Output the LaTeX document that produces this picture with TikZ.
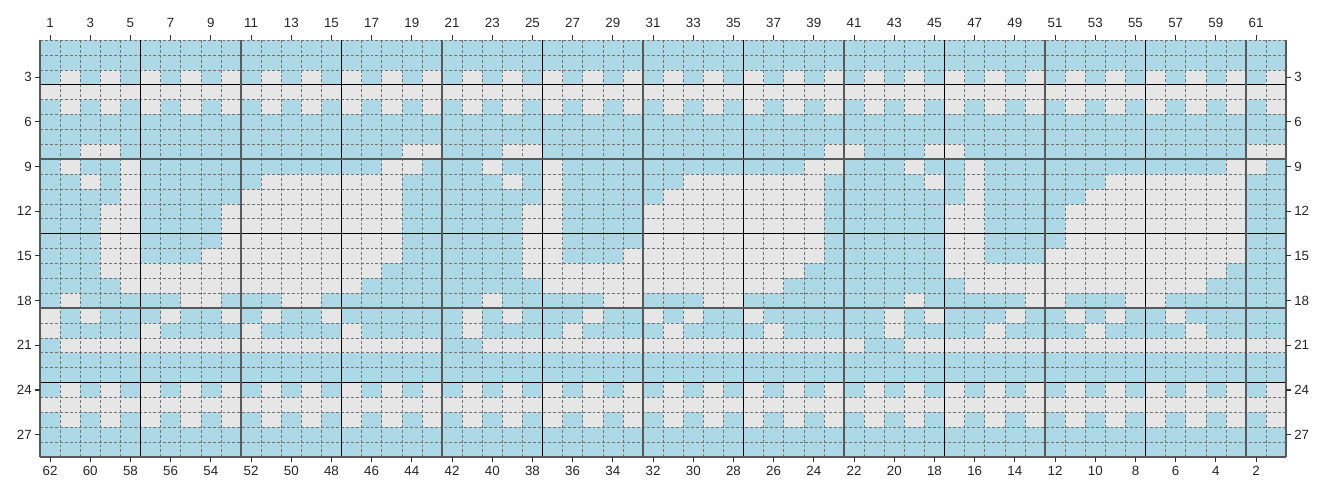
\documentclass[tikz,border=0pt]{standalone}
\usepackage{fontspec}
\setmainfont{Liberation Sans}
\usepackage{xcolor}
\usetikzlibrary{calc}

\definecolor{knitblue}{HTML}{ADD8E6}
\definecolor{knitgrey}{HTML}{E6E6E6}

\begin{document}
\begin{tikzpicture}[x=0.75pt, y=-0.75pt,
    cellgrid/.style={draw=black!55, line width=0.4pt, dash pattern=on 2.2pt off 1.5pt},
    thickrule/.style={draw=black!65, line width=1.6pt},
    thinrule/.style={draw=black, line width=0.75pt},
    tickmark/.style={draw=black!80, line width=0.8pt},
    axislabel/.style={font=\fontsize{10}{12}\selectfont, text=black!85, inner sep=0pt}]
  % Size of the page and of one stitch
  \useasboundingbox (0,0) rectangle (1326,497);
  \def\colw{20.1}
  \def\rowh{14.893}

  % Corners of the chart
  \coordinate (NW) at (40,40);
  \coordinate (SE) at (1286.2,457);

  % Background is the main colour
  \fill[knitblue] (NW) rectangle (SE);

  % Plain rows and checked rows in the contrast colour
  \foreach \r in {4,25} {
    \fill[knitgrey] (40,{40+(\r-1)*\rowh}) rectangle (1286.2,{40+\r*\rowh});
  }
  \foreach \r in {3,5,24,26} {
    \foreach \c in {2,4,...,62} {
      \fill[knitgrey] ({40+(\c-1)*\colw},{40+(\r-1)*\rowh}) rectangle ({40+\c*\colw},{40+\r*\rowh});
    }
  }

  % Motif of rows 8-21, repeated every 21 stitches (row / runs of contrast stitches)
  \foreach \r/\runs in {8/{3/4,19/20}, 9/{2/2,5/5,18/19}, 10/{3/3,5/5,12/18}, 11/{5/5,11/18},
      12/{4/5,10/18}, 13/{4/5,10/18}, 14/{4/5,10/18}, 15/{4/5,9/18}, 16/{4/17}, 17/{5/16},
      18/{2/2,8/9,13/14}, 19/{1/1,3/3,7/7,10/10,12/12,15/15}, 20/{1/1,6/6,11/11,16/16}, 21/{2/20}} {
    \foreach \a/\b in \runs {
      \foreach \off in {0,21,42} {
        \fill[knitgrey] ({40+(\a+\off-1)*\colw},{40+(\r-1)*\rowh}) rectangle ({40+(\b+\off)*\colw},{40+\r*\rowh});
      }
    }
  }

  % Dashed grid of stitches
  \foreach \c in {0,...,62} {
    \draw[cellgrid] ({40+\c*\colw},40) -- ({40+\c*\colw},457);
  }
  \foreach \r in {0,...,28} {
    \draw[cellgrid] (40,{40+\r*\rowh}) -- (1286.2,{40+\r*\rowh});
  }

  % Guide lines every five stitches and rows
  \foreach \c in {5,15,...,55} {
    \draw[thinrule] ({40+\c*\colw},40) -- ({40+\c*\colw},457);
  }
  \foreach \r in {3,13,23} {
    \draw[thinrule] (40,{40+\r*\rowh}) -- (1286.2,{40+\r*\rowh});
  }
  \foreach \c in {0,10,20,30,40,50,60,62} {
    \draw[thickrule] ({40+\c*\colw},40) -- ({40+\c*\colw},457);
  }
  \foreach \r in {8,18,28} {
    \draw[thickrule] (40,{40+\r*\rowh}) -- (1286.2,{40+\r*\rowh});
  }

  % Stitch numbers, top and bottom
  \foreach \c [evaluate=\c as \n using int(63-\c)] in {1,3,...,61} {
    \draw[tickmark] ({40+(\c-0.5)*\colw},35) -- ({40+(\c-0.5)*\colw},40);
    \node[axislabel] (top\c) at ({40+(\c-0.5)*\colw},23) {\c};
    \draw[tickmark] ({40+(\c-0.5)*\colw},457) -- ({40+(\c-0.5)*\colw},462);
    \node[axislabel] (bot\n) at ({40+(\c-0.5)*\colw},471) {\n};
  }

  % Row numbers, left and right
  \foreach \r in {3,6,...,27} {
    \draw[tickmark] (35,{40+(\r-0.5)*\rowh}) -- (40,{40+(\r-0.5)*\rowh});
    \node[axislabel, anchor=east] (left\r) at (32,{40+(\r-0.5)*\rowh}) {\r};
    \draw[tickmark] (1286.2,{40+(\r-0.5)*\rowh}) -- (1291,{40+(\r-0.5)*\rowh});
    \node[axislabel, anchor=west] (right\r) at (1294,{40+(\r-0.5)*\rowh}) {\r};
  }
\end{tikzpicture}
\end{document}
